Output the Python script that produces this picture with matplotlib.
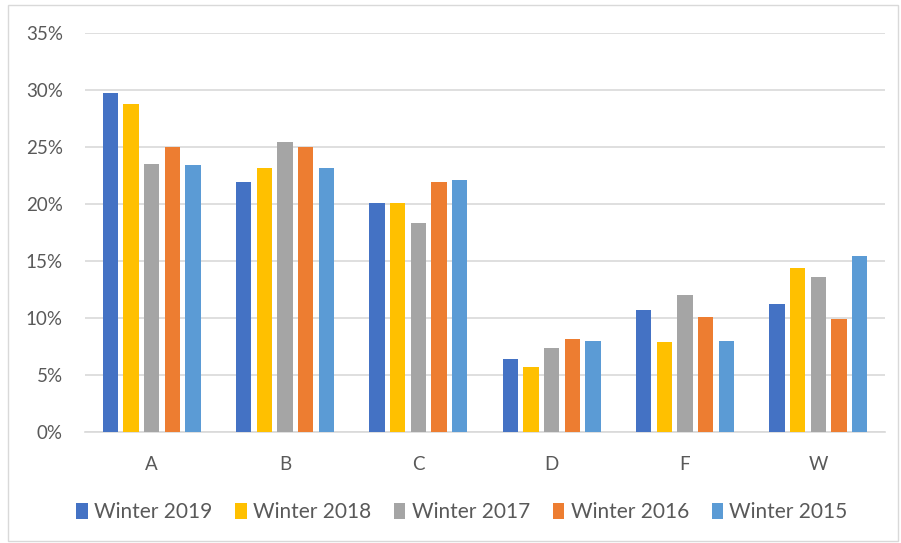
import numpy as np
import matplotlib.pyplot as plt
from matplotlib.patches import Rectangle

categories = ['A', 'B', 'C', 'D', 'F', 'W']
series = ['Winter 2019', 'Winter 2018', 'Winter 2017', 'Winter 2016', 'Winter 2015']
w2019 = [29.7, 21.9, 20.1, 6.4, 10.7, 11.2]
w2018 = [28.8, 23.2, 20.1, 5.7, 7.9, 14.4]
w2017 = [23.5, 25.4, 18.3, 7.4, 12.0, 13.6]
w2016 = [25.0, 25.0, 21.9, 8.2, 10.1, 9.9]
w2015 = [23.4, 23.2, 22.1, 8.0, 8.0, 15.4]
colors = ['#4472C4', '#FFC000', '#A5A5A5', '#ED7D31', '#5B9BD5']

plt.rcParams['font.family'] = ['Lato', 'DejaVu Sans']
text_col = '#595959'

fig = plt.figure(figsize=(9.01, 5.43), dpi=100)
ax = fig.add_axes([85/901, 1 - 432/543, 800/901, 399/543])

x = np.arange(len(categories))
step = 0.155
width = 0.113
data = [w2019, w2018, w2017, w2016, w2015]
for i, (vals, name, c) in enumerate(zip(data, series, colors)):
    ax.bar(x + (i - 2) * step, vals, width, color=c, label=name, zorder=3)

ax.set_xlim(-0.5, len(categories) - 0.5)
ax.set_ylim(0, 35)
ax.set_yticks(range(0, 36, 5))
ax.set_yticklabels([f'{v}%' for v in range(0, 36, 5)])
ax.set_xticks(x)
ax.set_xticklabels(categories)
ax.grid(axis='y', color='#D9D9D9', linewidth=1.2, zorder=0)
for s in ['top', 'right', 'left']:
    ax.spines[s].set_visible(False)
ax.spines['bottom'].set_color('#D9D9D9')
ax.spines['bottom'].set_linewidth(1.2)
ax.tick_params(axis='both', length=0, colors=text_col, labelsize=13.5)
ax.tick_params(axis='y', pad=16)
ax.tick_params(axis='x', pad=17)

leg = fig.legend(loc='center', bbox_to_anchor=(462/901, 1 - 512/543), ncol=5,
                 frameon=False, fontsize=15, handlelength=0.55, handleheight=0.8,
                 handletextpad=0.3, columnspacing=1.1)
for t in leg.get_texts():
    t.set_color(text_col)

fig.patches.append(Rectangle((8/901, 2/543), 890/901, 536/543, transform=fig.transFigure,
                             fill=False, edgecolor='#D9D9D9', linewidth=1))

fig.savefig('out.png', dpi=100, facecolor='white')
